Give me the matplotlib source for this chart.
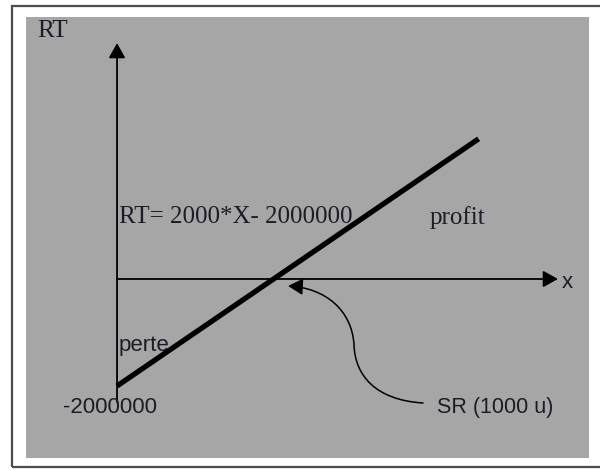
import matplotlib.pyplot as plt
from matplotlib.patches import Rectangle, FancyArrowPatch
from matplotlib.path import Path

# données du graphique (seuil de rentabilité)
x_line = [0, 2260]
rt_line = [-2000000, 2620000]
seuil = 1000
cout_fixe = -2000000
equation = "RT= 2000*X- 2000000"

fond = "#a6a6a6"
encre = "#1c1c28"

fig = plt.figure(figsize=(6, 4.69), dpi=100)
fig.patch.set_facecolor("white")

# cadre extérieur
fig.add_artist(Rectangle((12 / 600, 2 / 469), 620 / 600, 461 / 469, transform=fig.transFigure,
                         fill=False, edgecolor="#4d4d4d", lw=1.6))

ax = fig.add_axes([26 / 600, 11 / 469, 563 / 600, 441 / 469])
ax.set_facecolor(fond)
ax.set_xlim(-569, 2950)
ax.set_ylim(-3.346e6, 4.897e6)
ax.set_xticks([])
ax.set_yticks([])
for s in ax.spines.values():
    s.set_visible(False)

# axes avec flèches
fleche = dict(arrowstyle="-|>,head_length=0.45,head_width=0.25", lw=1.3, color="black",
              mutation_scale=20, shrinkA=0, shrinkB=0)
ax.annotate("", xy=(0, 4.41e6), xytext=(0, -2.3e6), arrowprops=fleche)
ax.annotate("", xy=(2756, 0), xytext=(0, 0), arrowprops=fleche)

# droite du résultat
ax.plot(x_line, rt_line, color="black", lw=3.8, solid_capstyle="butt")

serif = ["Liberation Serif", "DejaVu Serif"]
sans = ["Liberation Sans", "DejaVu Sans"]
ax.text(-500, 4.636e6, "RT", family=serif, fontsize=18, color=encre, ha="left", va="center")
ax.text(12, 1.159e6, equation, family=serif, fontsize=18, color=encre, ha="left", va="center")
ax.text(1956, 1.14e6, "profit", family=serif, fontsize=18, color=encre, ha="left", va="center")
ax.text(2781, -0.06e6, "x", family=sans, fontsize=16, color=encre, ha="left", va="center")
ax.text(12, -1.25e6, "perte", family=sans, fontsize=16, color=encre, ha="left", va="center")
ax.text(-337, cout_fixe - 0.41e6, str(cout_fixe), family=sans, fontsize=16, color=encre,
        ha="left", va="center")
ax.text(2000, -2.41e6, "SR (%d u)" % seuil, family=sans, fontsize=15.5, color=encre,
        ha="left", va="center")

# flèche courbe vers le seuil
def px(x, y):
    return ((x - 117) * 6.25, (279 - y) * 18692)

pts = [px(423, 403), px(375, 400), px(355, 375), px(354, 345),
       px(352, 310), px(325, 288), px(288, 286)]
codes = [Path.MOVETO] + [Path.CURVE4] * 6
courbe = FancyArrowPatch(path=Path(pts, codes), arrowstyle="-|>,head_length=0.45,head_width=0.25",
                         mutation_scale=20, lw=1.1, color="black")
ax.add_patch(courbe)

fig.savefig("out.png", dpi=100)
